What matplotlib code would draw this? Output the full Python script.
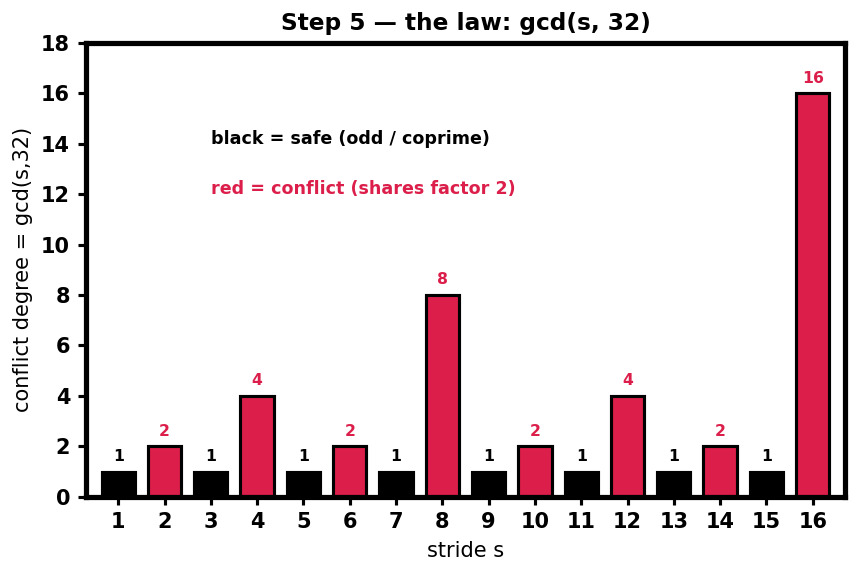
import matplotlib
matplotlib.use("Agg")
import matplotlib.pyplot as plt

strides = list(range(1, 17))
degrees = [1, 2, 1, 4, 1, 2, 1, 8, 1, 2, 1, 4, 1, 2, 1, 16]
RED = "#DC1E4A"
colors = ["black" if d == 1 else RED for d in degrees]

fig, ax = plt.subplots(figsize=(5.72, 3.807), dpi=150)
ax.bar(strides, degrees, width=0.72, color=colors, edgecolor="black", linewidth=1.5)
for s, d, c in zip(strides, degrees, colors):
    ax.text(s, d + 0.3, str(d), ha="center", va="bottom", fontsize=7.5,
            fontweight="bold", color=c)

ax.text(3, 14, "black = safe (odd / coprime)", fontsize=8.4, fontweight="bold",
        color="black", va="baseline", ha="left")
ax.text(3, 12, "red = conflict (shares factor 2)", fontsize=8.4, fontweight="bold",
        color=RED, va="baseline", ha="left")

ax.set_xlim(0.3, 16.7)
ax.set_ylim(0, 18)
ax.set_xticks(strides)
ax.set_yticks(range(0, 19, 2))
for lab in ax.get_xticklabels() + ax.get_yticklabels():
    lab.set_fontweight("bold")
    lab.set_fontsize(10)
ax.tick_params(width=1.5, length=4)
for sp in ax.spines.values():
    sp.set_linewidth(2.5)
ax.set_xlabel("stride s", fontsize=10)
ax.set_ylabel("conflict degree = gcd(s,32)", fontsize=10)
ax.set_title("Step 5 — the law: gcd(s, 32)", fontsize=11.2, fontweight="bold")
fig.subplots_adjust(left=0.1, right=0.985, top=0.925, bottom=0.13)
fig.savefig("out.png", dpi=150)
